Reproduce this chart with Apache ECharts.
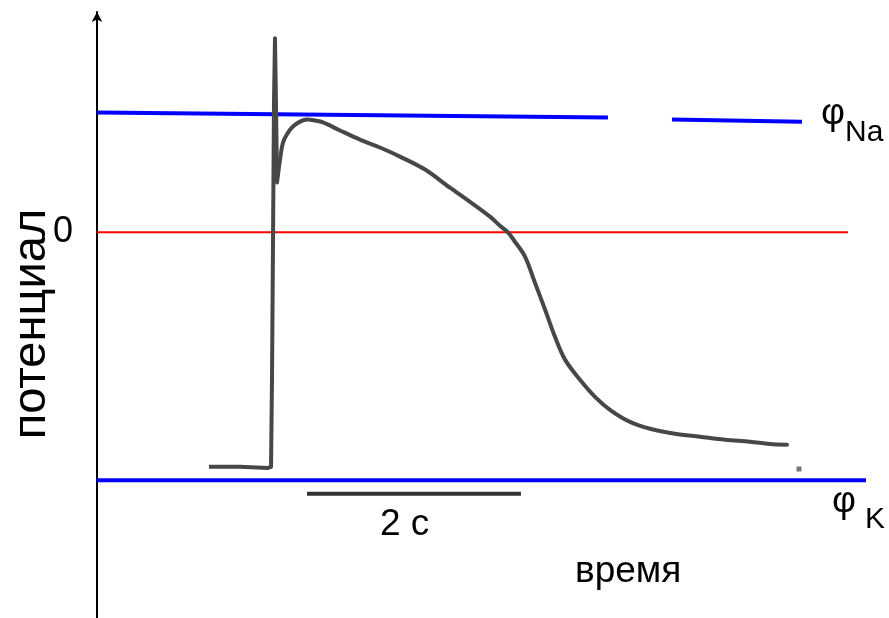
<!DOCTYPE html>
<html>
<head>
<meta charset="utf-8">
<script src="https://cdn.jsdelivr.net/npm/echarts@6/dist/echarts.min.js"></script>
<style>
html,body{margin:0;padding:0;background:#fff;}
#chart{width:889px;height:618px;}
</style>
</head>
<body>
<div id="chart"></div>
<script>
// time in seconds, potential in mV (phi_K taken as -90 mV)
var apTime = [1.046,1.336,1.598,1.626,1.635,1.644,1.654,1.663,1.673,1.682,1.710,1.738,1.785,1.831,1.897,1.962,2.037,2.112,2.270,2.457,2.644,2.831,3.065,3.298,3.485,3.672,3.765,3.840,3.905,3.999,4.092,4.186,4.279,4.373,4.513,4.653,4.793,4.980,5.167,5.400,5.634,5.868,6.101,6.288,6.447];
var apPotential = [-85.1,-85.1,-85.5,-85.1,-53.5,-6.3,48.2,70.5,45.0,18.1,26.4,32.6,36.2,38.4,40.2,41.0,40.6,39.9,37.0,33.7,30.8,27.5,22.8,16.2,11.1,5.7,2.4,0,-3.4,-8.8,-18.3,-28.0,-37.9,-46.2,-53.5,-59.7,-64.4,-68.8,-71.3,-73.1,-74.2,-75.3,-76.0,-76.8,-77.1];
var notchIndex = 9; // spike part is drawn sharp, plateau/repolarisation smooth
var strayDot = [[6.559,-85.9]];
var phiNaLeftX = [0, 4.774];
var phiNaLeftY = [43.5, 41.7];
var phiNaRightX = [5.372, 6.587];
var phiNaRightY = [41.0, 40.2];
var zeroX = [0, 7.017];
var zeroY = [0, 0];
var phiKX = [0, 7.185];
var phiKY = [-90, -90];
var scaleBarX = [1.962, 3.961];   // 2 s
var scaleBarY = [-94.9, -94.9];
var yTickLabels = {0: '0'};

function zip(xs, ys){ return xs.map(function(x,i){ return [x, ys[i]]; }); }

var apData = zip(apTime, apPotential);
var chart = echarts.init(document.getElementById('chart'));
var font = '"Liberation Sans", Arial, sans-serif';
chart.setOption({
  animation: false,
  backgroundColor: '#ffffff',
  grid: {left: 97, right: 0, top: 12, bottom: 0, containLabel: false, outerBoundsMode: 'none'},
  xAxis: {
    type: 'value', min: 0, max: 7.4,
    axisLine: {show: false}, axisTick: {show: false}, axisLabel: {show: false}, splitLine: {show: false}
  },
  yAxis: {
    type: 'value', min: -140, max: 80, interval: 10,
    axisLine: {show: true, lineStyle: {color: '#000', width: 2}, symbol: ['none', 'arrow'], symbolSize: [8, 10]},
    axisTick: {show: false},
    splitLine: {show: false},
    axisLabel: {
      show: true, margin: 24, fontSize: 36, color: '#000', fontFamily: font,
      formatter: function(v){ return yTickLabels[v] !== undefined ? yTickLabels[v] : ''; }
    }
  },
  graphic: [
    {type: 'text', x: 32, y: 324, rotation: Math.PI / 2,
     style: {text: 'потенциал', font: '47px ' + font, fill: '#000', textAlign: 'center', textVerticalAlign: 'middle'}},
    {type: 'text', left: 380, top: 506, style: {text: '2 с', font: '37px ' + font, fill: '#000'}},
    {type: 'text', left: 575, top: 553, style: {text: 'время', font: '37px ' + font, fill: '#000'}},
    {type: 'text', left: 821, top: 95, style: {text: 'φ', font: '37px ' + font, fill: '#000'}},
    {type: 'text', left: 845, top: 118, style: {text: 'Na', font: '30px ' + font, fill: '#000'}},
    {type: 'text', left: 832, top: 483, style: {text: 'φ', font: '37px ' + font, fill: '#000'}},
    {type: 'text', left: 865, top: 505, style: {text: 'K', font: '30px ' + font, fill: '#000'}}
  ],
  series: [
    {type: 'line', data: zip(zeroX, zeroY), symbol: 'none', lineStyle: {color: '#ff0000', width: 2}, z: 2},
    {type: 'line', data: zip(phiNaLeftX, phiNaLeftY), symbol: 'none', lineStyle: {color: '#0000ff', width: 4}, z: 2},
    {type: 'line', data: zip(phiNaRightX, phiNaRightY), symbol: 'none', lineStyle: {color: '#0000ff', width: 4}, z: 2},
    {type: 'line', data: zip(phiKX, phiKY), symbol: 'none', lineStyle: {color: '#0000ff', width: 4}, z: 2},
    {type: 'line', data: zip(scaleBarX, scaleBarY), symbol: 'none', lineStyle: {color: '#333333', width: 4}, z: 2},
    {type: 'line', data: apData.slice(0, notchIndex + 1), symbol: 'none', clip: false,
     lineStyle: {color: '#474747', width: 4, join: 'round'}, z: 3},
    {type: 'line', data: apData.slice(notchIndex), symbol: 'none', clip: false, smooth: 0.35,
     lineStyle: {color: '#474747', width: 4, join: 'round', cap: 'round'}, z: 3},
    {type: 'scatter', data: strayDot, symbol: 'rect', symbolSize: 5, itemStyle: {color: '#555'}, z: 3}
  ]
});
</script>
</body>
</html>
